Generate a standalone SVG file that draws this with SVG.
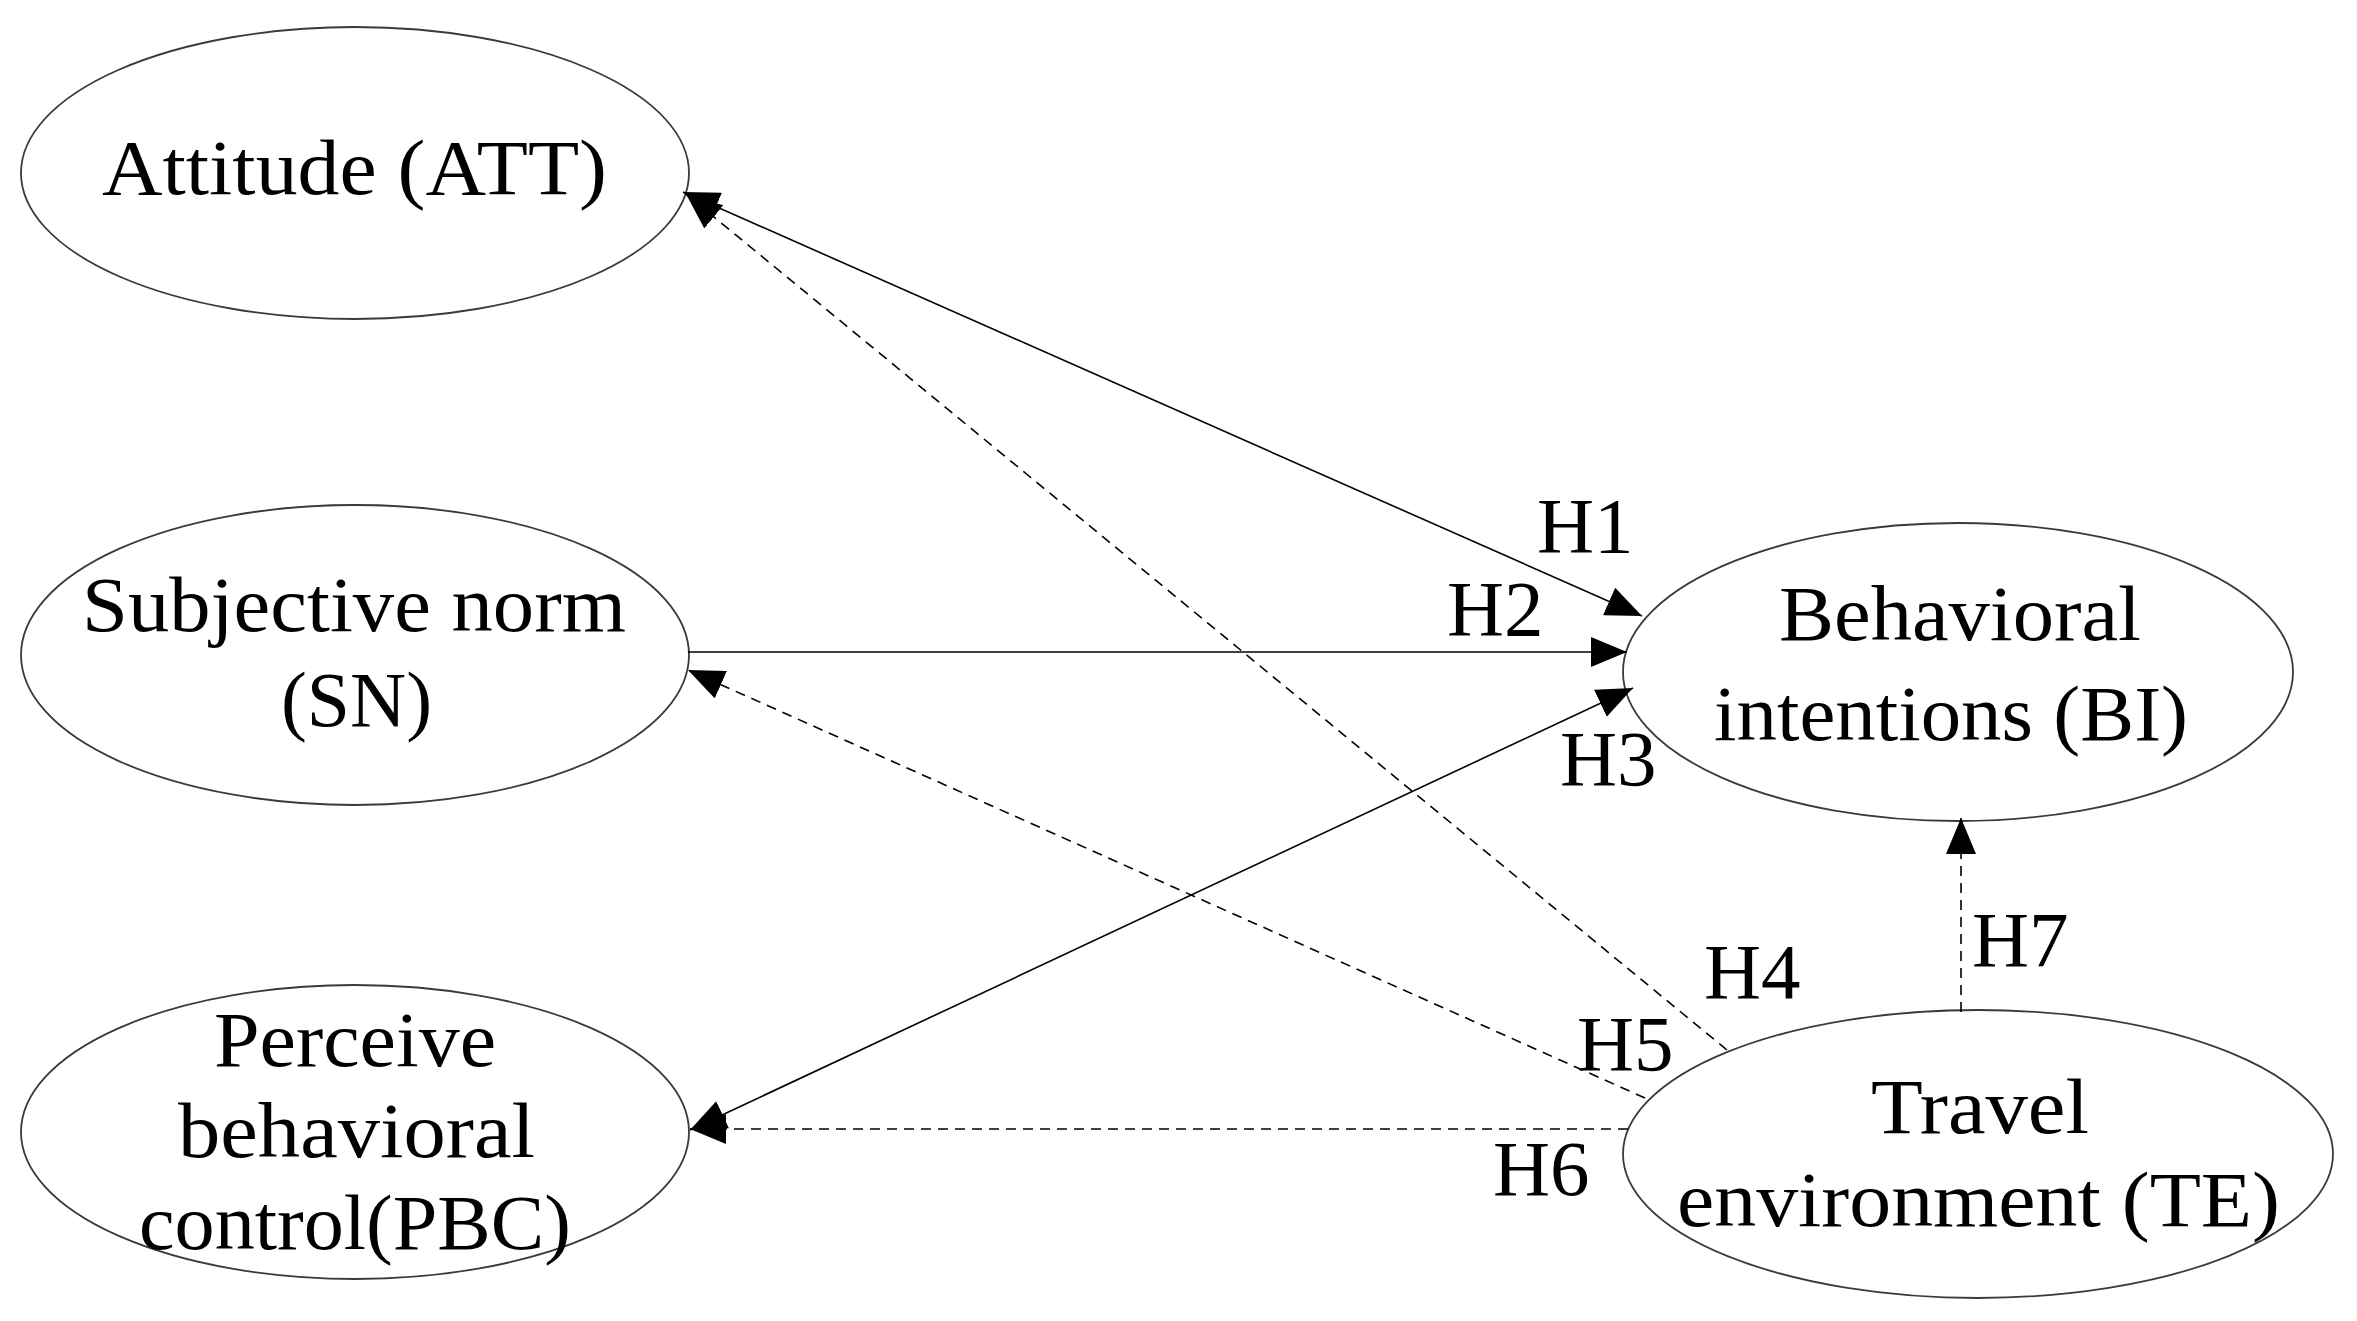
<svg xmlns="http://www.w3.org/2000/svg" width="2357" height="1321" viewBox="0 0 2357 1321">
<style>
.node ellipse{fill:#fff;stroke:#3a3a3a;stroke-width:1.8}
.node text,.lbl{font-family:"Liberation Serif","Times New Roman",serif;font-size:79px;fill:#000}
.node text{text-anchor:start}
.c{stroke:#000;stroke-width:1.6;fill:none}
.d{stroke-dasharray:10,7}
</style>
<defs>
<marker id="ah" viewBox="0 0 36 30" refX="36" refY="15" markerWidth="36" markerHeight="30" markerUnits="userSpaceOnUse" orient="auto-start-reverse">
<path d="M0,0 L36,15 L0,30 z" fill="#000"/>
</marker>
</defs>
<rect width="2357" height="1321" fill="#fff"/>
<g id="node-att" class="node">
<ellipse cx="355" cy="173" rx="334" ry="146"/>
<text x="102" y="194" textLength="505" lengthAdjust="spacingAndGlyphs">Attitude (ATT)</text>
</g>
<g id="node-sn" class="node">
<ellipse cx="355" cy="655" rx="334" ry="150"/>
<text x="82" y="631" textLength="544" lengthAdjust="spacingAndGlyphs">Subjective norm</text>
<text x="281" y="726" textLength="151" lengthAdjust="spacingAndGlyphs">(SN)</text>
</g>
<g id="node-pbc" class="node">
<ellipse cx="355" cy="1132" rx="334" ry="147"/>
<text x="214" y="1066" textLength="282" lengthAdjust="spacingAndGlyphs">Perceive</text>
<text x="178" y="1157" textLength="357" lengthAdjust="spacingAndGlyphs">behavioral</text>
<text x="139" y="1249" textLength="432" lengthAdjust="spacingAndGlyphs">control(PBC)</text>
</g>
<g id="node-bi" class="node">
<ellipse cx="1958" cy="672" rx="335" ry="149"/>
<text x="1779" y="640" textLength="362" lengthAdjust="spacingAndGlyphs">Behavioral</text>
<text x="1714" y="740" textLength="474" lengthAdjust="spacingAndGlyphs">intentions (BI)</text>
</g>
<g id="node-te" class="node">
<ellipse cx="1978" cy="1154" rx="355" ry="144"/>
<text x="1871" y="1133" textLength="218" lengthAdjust="spacingAndGlyphs">Travel</text>
<text x="1677" y="1226" textLength="603" lengthAdjust="spacingAndGlyphs">environment (TE)</text>
</g>
<g id="connectors">
<path class="c" d="M683,192 L1642,616" marker-start="url(#ah)" marker-end="url(#ah)"/>
<path class="c" d="M688,652 L1627,652" marker-end="url(#ah)"/>
<path class="c" d="M690,1130 L1633,688" marker-start="url(#ah)" marker-end="url(#ah)"/>
<path class="c d" d="M1727,1050 L686,194" marker-end="url(#ah)"/>
<path class="c d" d="M1645,1098 L688,670" marker-end="url(#ah)"/>
<path class="c d" d="M1628,1129 L690,1129" marker-end="url(#ah)"/>
<path class="c d" d="M1961,1012 L1961,818" marker-end="url(#ah)"/>
<text class="lbl" x="1537" y="552">H1</text>
<text class="lbl" x="1447" y="635">H2</text>
<text class="lbl" x="1560" y="785">H3</text>
<text class="lbl" x="1704" y="998">H4</text>
<text class="lbl" x="1577" y="1070">H5</text>
<text class="lbl" x="1493" y="1195">H6</text>
<text class="lbl" x="1972" y="966">H7</text>
</g>
</svg>
